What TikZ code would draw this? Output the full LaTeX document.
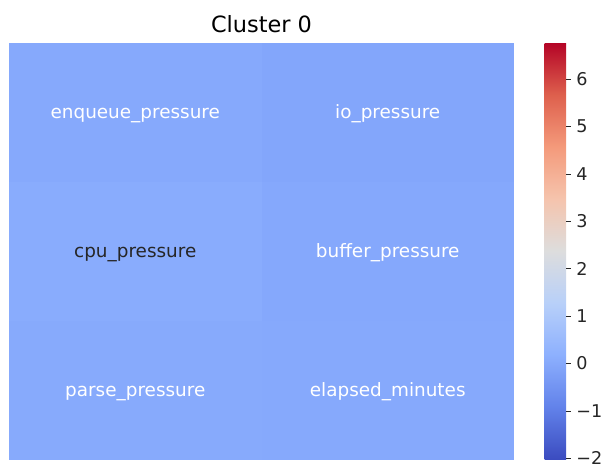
\documentclass[tikz,border=0pt]{standalone}
\usepackage{fontspec}
\setmainfont{DejaVu Sans}

% coolwarm colour map stops
\definecolor{cwA}{RGB}{59,76,192}
\definecolor{cwB}{RGB}{98,130,234}
\definecolor{cwC}{RGB}{141,176,254}
\definecolor{cwD}{RGB}{184,208,249}
\definecolor{cwE}{RGB}{221,221,221}
\definecolor{cwF}{RGB}{245,196,173}
\definecolor{cwG}{RGB}{244,154,123}
\definecolor{cwH}{RGB}{222,96,77}
\definecolor{cwI}{RGB}{180,4,38}
% the shaded path covers the band 25bp--75bp of a vertical shading
\pgfdeclareverticalshading{coolwarm}{100bp}{%
  color(0bp)=(cwA); color(25bp)=(cwA); color(31.25bp)=(cwB);
  color(37.5bp)=(cwC); color(43.75bp)=(cwD); color(50bp)=(cwE);
  color(56.25bp)=(cwF); color(62.5bp)=(cwG); color(68.75bp)=(cwH);
  color(75bp)=(cwI); color(100bp)=(cwI)}

\definecolor{cEnq}{RGB}{134,169,252}
\definecolor{cIo}{RGB}{131,166,251}
\definecolor{cCpu}{RGB}{137,172,253}
\definecolor{cBuf}{RGB}{133,168,252}
\definecolor{cPar}{RGB}{135,170,252}
\definecolor{cEla}{RGB}{134,169,252}
\definecolor{darktext}{RGB}{38,38,38}

\newlength{\unitpx}
\setlength{\unitpx}{0.75pt}

\tikzset{
  cell/.style={inner sep=0pt, outer sep=0pt, minimum width=252.5\unitpx, minimum height=139\unitpx},
  celltext/.style={inner sep=0pt, text height=0.76em, text depth=0.24em, font=\fontsize{13.8}{16}\selectfont},
  lighttxt/.style={celltext, text=white},
  darktxt/.style={celltext, text=darktext},
  ticklabel/.style={anchor=west, inner sep=0pt, font=\fontsize{13.2}{15}\selectfont, text=darktext},
}

\begin{document}
\begin{tikzpicture}[x=0.75pt, y=-0.75pt]
  \useasboundingbox[fill=white] (0,0) rectangle (605,464);

  % title
  \node[font=\fontsize{16.8}{20}\selectfont, text=black] (title) at (261.5,24) {Cluster 0};

  % heatmap cells
  \node[cell, fill=cEnq] (enq) at (135.25,112.5) {};
  \node[cell, fill=cIo]  (io)  at (387.75,112.5) {};
  \node[cell, fill=cCpu] (cpu) at (135.25,251.5) {};
  \node[cell, fill=cBuf] (buf) at (387.75,251.5) {};
  \node[cell, fill=cPar] (par) at (135.25,390.5) {};
  \node[cell, fill=cEla] (ela) at (387.75,390.5) {};

  % cell annotations
  \node[lighttxt] (enqt) at ([yshift=-2.1pt]enq.center) {enqueue\_pressure};
  \node[lighttxt] (iot)  at ([yshift=-2.1pt]io.center)  {io\_pressure};
  \node[darktxt]  (cput) at ([yshift=-2.1pt]cpu.center) {cpu\_pressure};
  \node[lighttxt] (buft) at ([yshift=-2.1pt]buf.center) {buffer\_pressure};
  \node[lighttxt] (part) at ([yshift=-2.1pt]par.center) {parse\_pressure};
  \node[lighttxt] (elat) at ([yshift=-2.1pt]ela.center) {elapsed\_minutes};

  % colour bar
  \shade[shading=coolwarm] (544.5,43) rectangle (566,459);

  % ticks: value v at y = 363.5 - 47.4*v
  \foreach \v/\lab in {6/6,5/5,4/4,3/3,2/2,1/1,0/0,-1/−1,-2/−2}{
    \draw[darktext, line width=0.6pt] (566,{363.5-47.4*\v}) -- (570.5,{363.5-47.4*\v});
    \node[ticklabel] (t\v) at (576,{363.5-47.4*\v}) {\lab};
  }
\end{tikzpicture}
\end{document}
